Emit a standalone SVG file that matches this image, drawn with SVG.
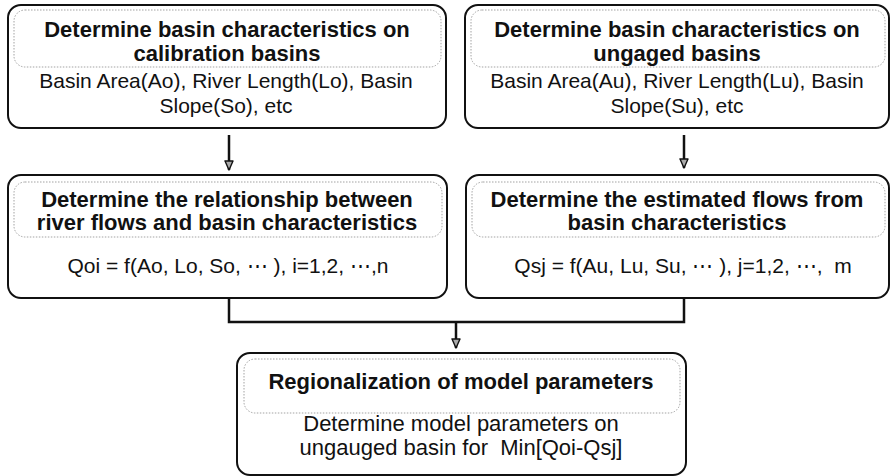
<svg xmlns="http://www.w3.org/2000/svg" width="893" height="476" viewBox="0 0 893 476">
<defs>
<marker id="arr" markerUnits="userSpaceOnUse" markerWidth="12" markerHeight="10" refX="10" refY="5" orient="auto" viewBox="0 0 12 10">
<path d="M1,1 L10,5 L1,9 Z" fill="#aaa" stroke="#111" stroke-width="1.4" stroke-linejoin="round"/>
</marker>
</defs>
<style>
.outer{fill:#fff;stroke:#111;stroke-width:2}
.inner{fill:none;stroke:#999;stroke-width:0.9;stroke-dasharray:1.5 1.5}
.t{font-family:"Liberation Sans",Arial,sans-serif;font-weight:bold;font-size:22px;fill:#111;text-anchor:middle}
.r{font-family:"Liberation Sans",Arial,sans-serif;font-size:21px;fill:#111;text-anchor:middle}
.r2{font-size:22px}
.c{fill:none;stroke:#111;stroke-width:2.5}
</style>
<rect width="893" height="476" fill="#fff"/>
<g id="node-calib">
<rect class="outer" x="8" y="5" width="438" height="123" rx="13"/>
<rect class="inner" x="14" y="10" width="427" height="57" rx="11"/>
<text class="t" x="227" y="37">Determine basin characteristics on</text>
<text class="t" x="227" y="61">calibration basins</text>
<text class="r" x="226" y="88">Basin Area(Ao), River Length(Lo), Basin</text>
<text class="r" x="226" y="113">Slope(So), etc</text>
</g>
<g id="node-ungaged">
<rect class="outer" x="465" y="5" width="424" height="123" rx="13"/>
<rect class="inner" x="471" y="10" width="414" height="57" rx="11"/>
<text class="t" x="677" y="37">Determine basin characteristics on</text>
<text class="t" x="677" y="61">ungaged basins</text>
<text class="r" x="677" y="88">Basin Area(Au), River Length(Lu), Basin</text>
<text class="r" x="677" y="113">Slope(Su), etc</text>
</g>
<g id="node-relationship">
<rect class="outer" x="8" y="175" width="439" height="123" rx="13"/>
<rect class="inner" x="14" y="182" width="428" height="55" rx="11"/>
<text class="t" x="227" y="207">Determine the relationship between</text>
<text class="t" x="227" y="230">river flows and basin characteristics</text>
<text class="r" x="228" y="273">Qoi = f(Ao, Lo, So, ⋯ ), i=1,2, ⋯,n</text>
</g>
<g id="node-estimated">
<rect class="outer" x="466" y="175" width="423" height="123" rx="13"/>
<rect class="inner" x="472" y="182" width="413" height="55" rx="11"/>
<text class="t" x="677" y="207">Determine the estimated flows from</text>
<text class="t" x="677" y="230">basin characteristics</text>
<text class="r" x="683" y="273" xml:space="preserve">Qsj = f(Au, Lu, Su, ⋯ ), j=1,2, ⋯,  m</text>
</g>
<g id="node-regional">
<rect class="outer" x="237" y="353" width="449" height="122" rx="13"/>
<rect class="inner" x="244" y="359" width="436" height="54" rx="11"/>
<text class="t" x="461" y="389">Regionalization of model parameters</text>
<text class="r r2" x="461" y="431">Determine model parameters on</text>
<text class="r r2" x="461" y="455" xml:space="preserve">ungauged basin for  Min[Qoi-Qsj]</text>
</g>
<g id="connectors">
<line class="c" x1="229" y1="135" x2="229" y2="170" marker-end="url(#arr)"/>
<line class="c" x1="684" y1="135" x2="684" y2="168" marker-end="url(#arr)"/>
<polyline class="c" points="229,298 229,322 684,322 684,298"/>
<line class="c" x1="456" y1="322" x2="456" y2="348" marker-end="url(#arr)"/>
</g>
</svg>
